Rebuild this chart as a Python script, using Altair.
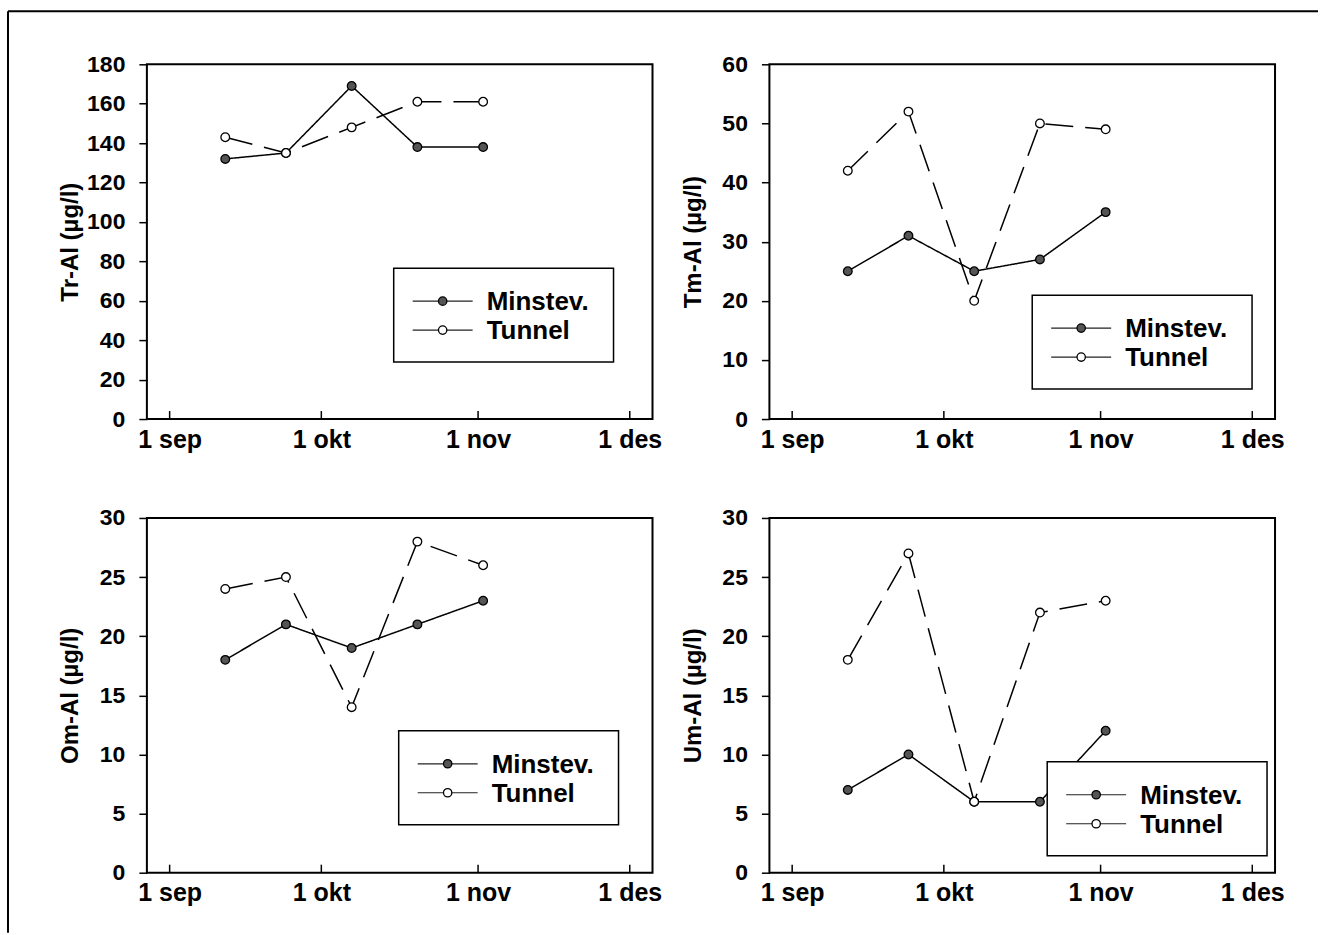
import altair as alt
import pandas as pd

# ---- data ----
dates = ["1997-09-12", "1997-09-24", "1997-10-07", "1997-10-20", "1997-11-02"]
series = ["Minstev.", "Tunnel"]

tr_min = [132, 135, 169, 138, 138]
tr_tun = [143, 135, 148, 161, 161]
tm_min = [25, 31, 25, 27, 35]
tm_tun = [42, 52, 20, 50, 49]
om_min = [18, 21, 19, 21, 23]
om_tun = [24, 25, 14, 28, 26]
um_min = [7, 10, 6, 6, 12]
um_tun = [18, 27, 6, 22, 23]

tr_ticks = [0, 20, 40, 60, 80, 100, 120, 140, 160, 180]
tm_ticks = [0, 10, 20, 30, 40, 50, 60]
om_ticks = [0, 5, 10, 15, 20, 25, 30]
um_ticks = [0, 5, 10, 15, 20, 25, 30]

month_ticks = ["1997-09-01", "1997-10-01", "1997-11-01", "1997-12-01"]
month_labels = ["1 sep", "1 okt", "1 nov", "1 des"]

titles = ["Tr-Al (µg/l)", "Tm-Al (µg/l)", "Om-Al (µg/l)", "Um-Al (µg/l)"]

# ---- layout / style ----
W, H = 506, 355
FONT = "Liberation Sans"
FILLS = ["#555555", "white"]

xscale = alt.Scale(
    type="utc",
    domain=[
        alt.DateTime(year=1997, month=8, date=27, hours=12, utc=True),
        alt.DateTime(year=1997, month=12, date=5, hours=12, utc=True),
    ],
)
tick_dt = [
    alt.DateTime(year=int(s[:4]), month=int(s[5:7]), date=int(s[8:]), utc=True)
    for s in month_ticks
]
label_expr = "[" + ",".join("'%s'" % l for l in month_labels) + "][utcmonth(datum.value)-8]"

xenc = alt.X(
    "date:T",
    scale=xscale,
    axis=alt.Axis(
        values=tick_dt,
        labelExpr=label_expr,
        ticks=False,
        domain=False,
        grid=False,
        title=None,
        labelFont=FONT,
        labelFontSize=25,
        labelFontWeight="bold",
        labelColor="black",
        labelPadding=8,
        labelFlush=False,
        labelOverlap=False,
    ),
)


def legend_layers(lx, ly):
    """Boxed legend drawn inside the plot area (line + marker + label)."""
    out = []
    box = alt.Chart(pd.DataFrame({"a": [0]})).mark_rect(
        fill="white", stroke="black", strokeWidth=1.5
    ).encode(
        x=alt.value(lx), x2=alt.value(lx + 220), y=alt.value(ly), y2=alt.value(ly + 94)
    )
    out.append(box)
    for i, s in enumerate(series):
        row = ly + 33 + 29 * i
        sdf = pd.DataFrame({"series": [s]})
        out.append(
            alt.Chart(sdf).mark_rule(color="#222222", strokeWidth=1.2).encode(
                x=alt.value(lx + 19), x2=alt.value(lx + 79), y=alt.value(row)
            )
        )
        out.append(
            alt.Chart(sdf).mark_point(
                shape="circle", filled=True, fill=FILLS[i], stroke="black",
                strokeWidth=1.3, size=70, opacity=1,
            ).encode(x=alt.value(lx + 49), y=alt.value(row))
        )
        out.append(
            alt.Chart(sdf).mark_text(
                align="left", baseline="middle", font=FONT, fontSize=26,
                fontWeight="bold", color="black",
            ).encode(x=alt.value(lx + 93), y=alt.value(row + 1), text="series:N")
        )
    return out


def panel(title, vmin, vtun, ymax, yticks, lx, ly, frame=False):
    df = pd.DataFrame(
        {
            "date": dates * 2,
            "series": [series[0]] * len(vmin) + [series[1]] * len(vtun),
            "value": vmin + vtun,
        }
    )
    yenc = alt.Y(
        "value:Q",
        scale=alt.Scale(domain=[0, ymax], nice=False, zero=True),
        axis=alt.Axis(
            values=yticks,
            title=title,
            grid=False,
            domain=False,
            tickSize=8,
            tickWidth=1.5,
            tickColor="black",
            labelFont=FONT,
            labelFontSize=23,
            labelFontWeight="bold",
            labelColor="black",
            labelPadding=14,
            labelFlush=False,
            titleFont=FONT,
            titleFontSize=24,
            titleFontWeight="bold",
            titleColor="black",
            titleAngle=270,
            titleX=-76,
            titleY=H / 2,
            titleAlign="center",
            titleBaseline="middle",
        ),
    )
    base = alt.Chart(df).encode(x=xenc, y=yenc)
    line = base.mark_line(color="black", strokeWidth=1.5).encode(
        strokeDash=alt.StrokeDash(
            "series:N",
            scale=alt.Scale(domain=series, range=[[1, 0], [28, 12]]),
            legend=None,
        )
    )
    pts = base.mark_point(
        shape="circle", filled=True, stroke="black", strokeWidth=1.3, size=75, opacity=1
    ).encode(
        fill=alt.Fill("series:N", scale=alt.Scale(domain=series, range=FILLS), legend=None)
    )
    tdf = pd.DataFrame({"date": month_ticks})
    tks = alt.Chart(tdf).mark_rule(color="black", strokeWidth=1.5).encode(
        x=xenc, y=alt.value(H), y2=alt.value(H - 8)
    )
    layers = [line, pts, tks] + legend_layers(lx, ly)
    if frame:
        one = pd.DataFrame({"a": [0]})
        top = alt.Chart(one).mark_rule(color="black", strokeWidth=2).encode(
            x=alt.value(-139), x2=alt.value(1172), y=alt.value(-53)
        )
        left = alt.Chart(one).mark_rule(color="black", strokeWidth=2).encode(
            x=alt.value(-139), y=alt.value(-53), y2=alt.value(869)
        )
        layers += [top, left]
    return alt.layer(*layers).properties(width=W, height=H)


p1 = panel(titles[0], tr_min, tr_tun, 180, tr_ticks, 247, 204, frame=True)
p2 = panel(titles[1], tm_min, tm_tun, 60, tm_ticks, 263, 231)
p3 = panel(titles[2], om_min, om_tun, 30, om_ticks, 252, 213)
p4 = panel(titles[3], um_min, um_tun, 30, um_ticks, 278, 244)

chart = (
    alt.concat(p1, p2, p3, p4, columns=2, spacing={"row": 99, "column": 117}, bounds="flush")
    .properties(padding={"left": 6, "top": 9, "right": 0, "bottom": 0}, background="white")
    .configure_view(stroke="black", strokeWidth=2)
)

chart.save("out.html", embed_options={"renderer": "svg", "actions": False})
